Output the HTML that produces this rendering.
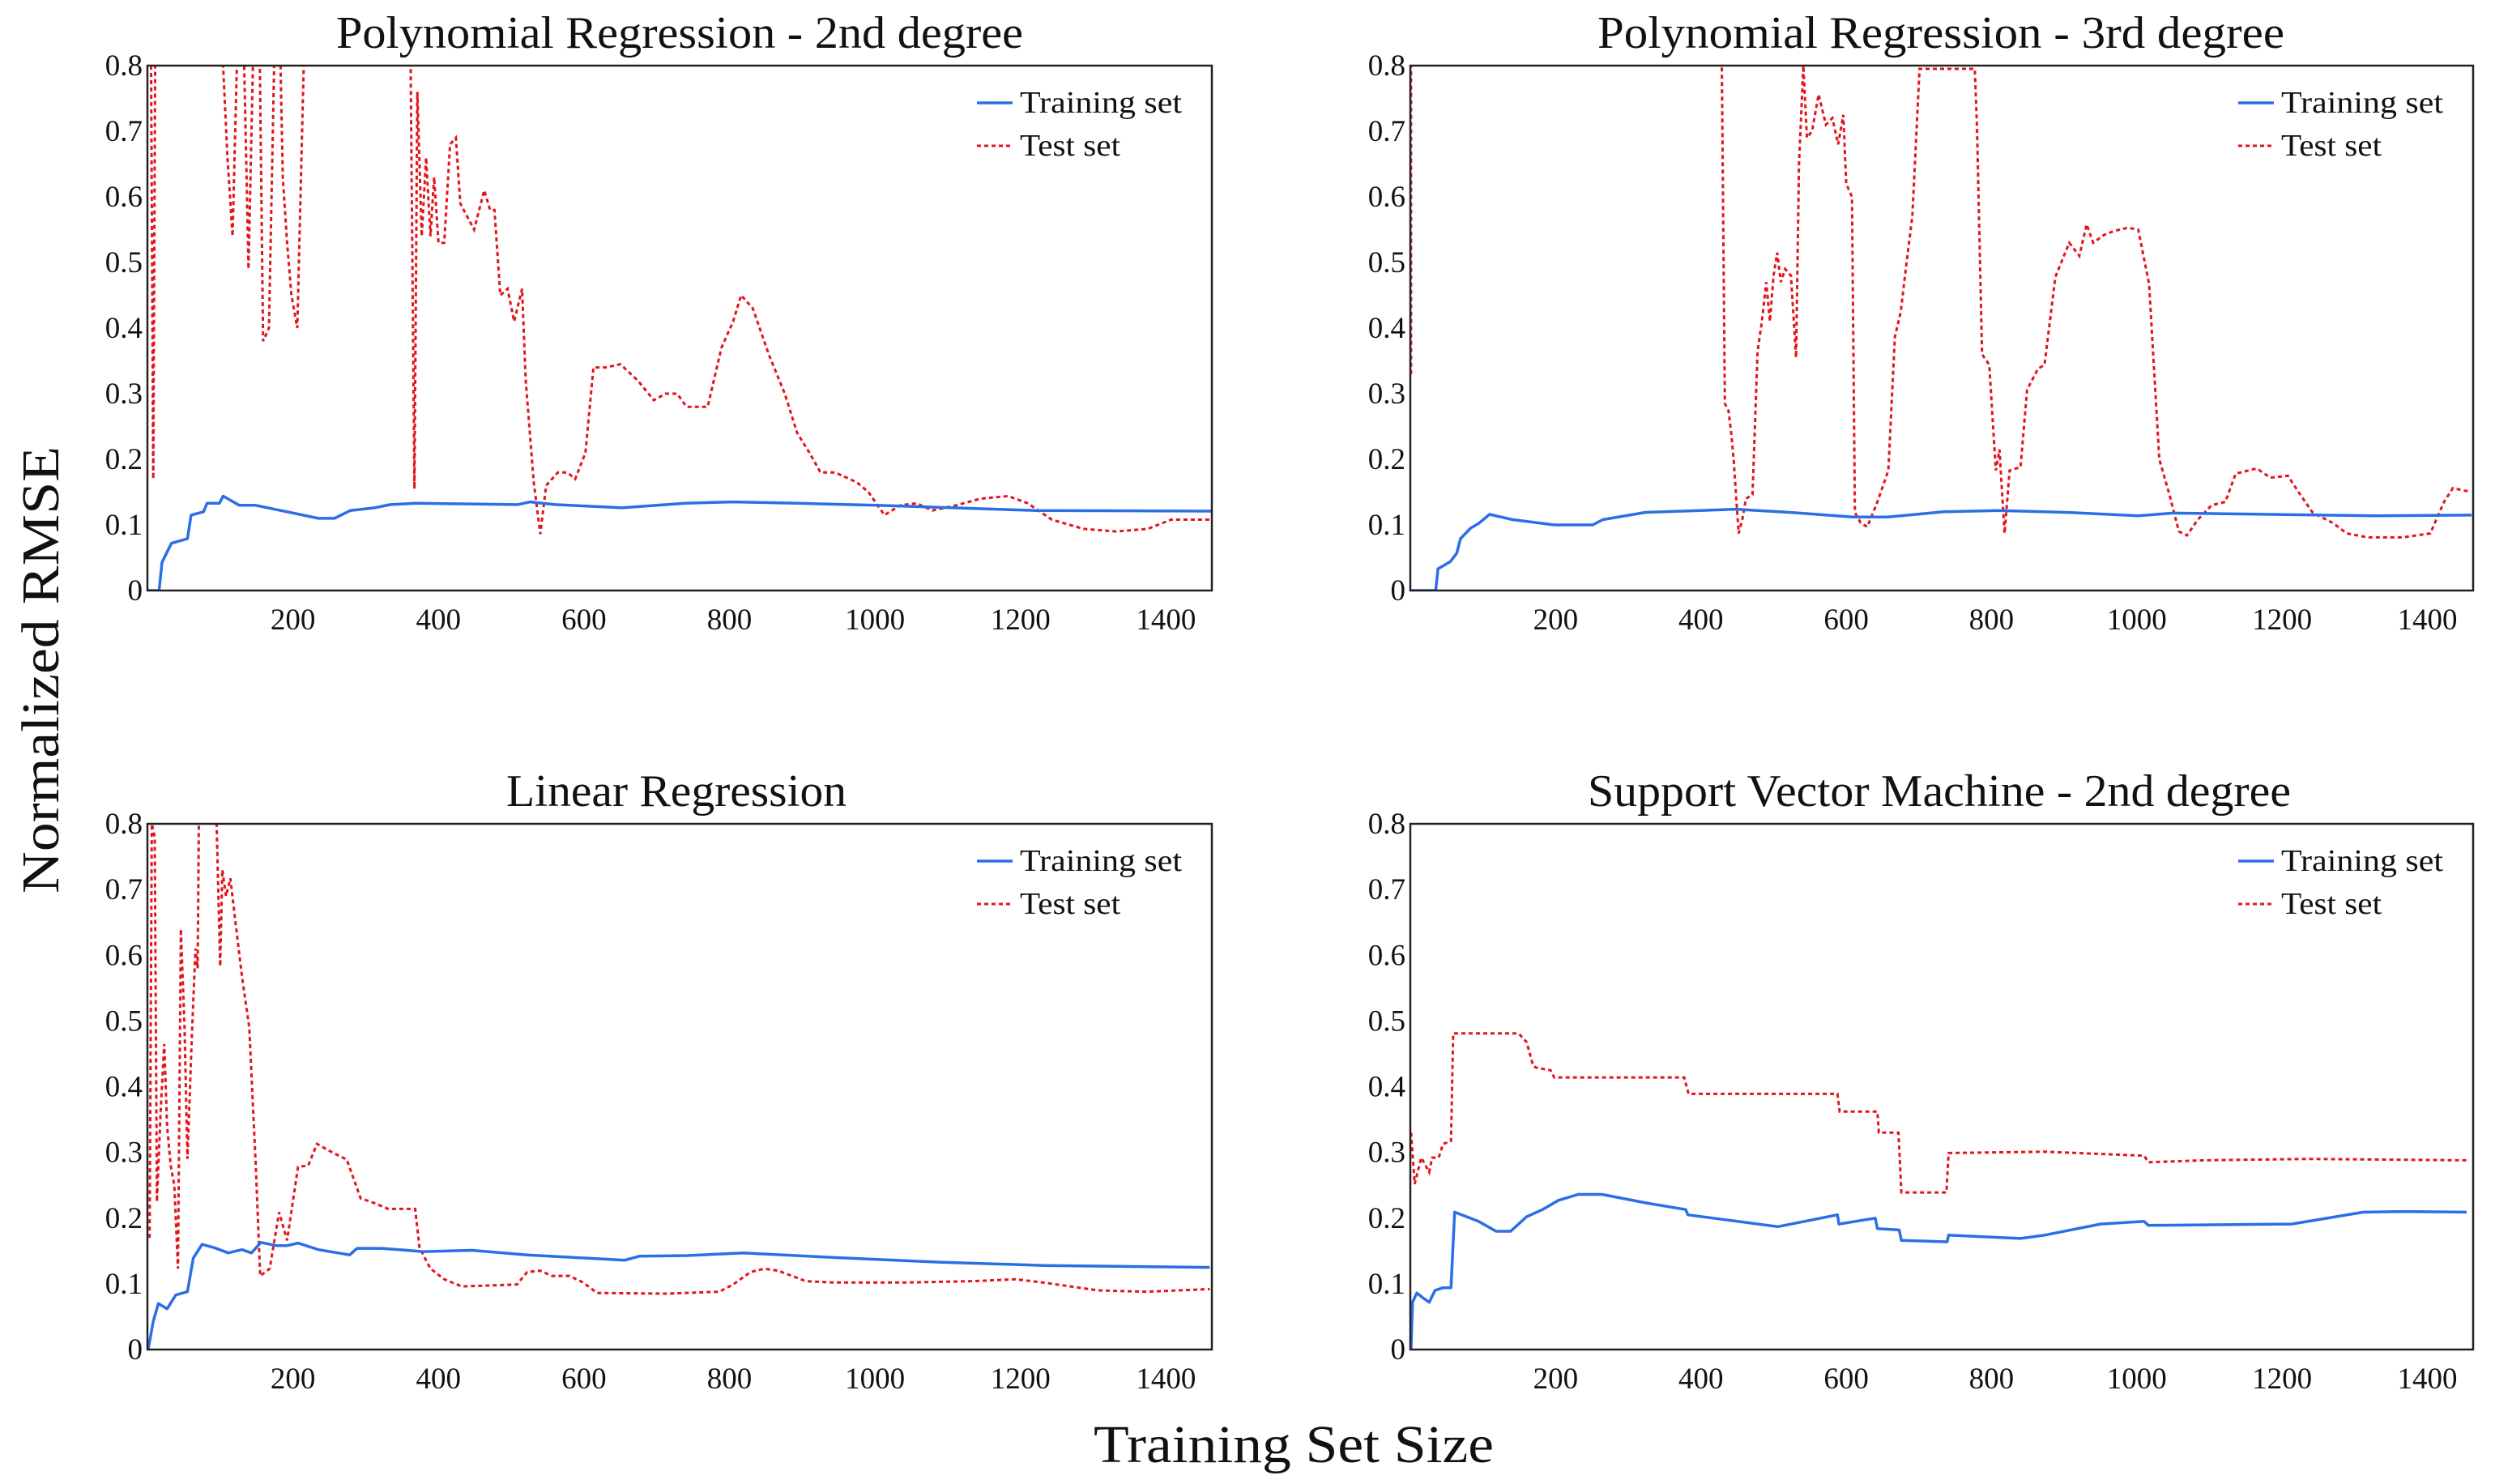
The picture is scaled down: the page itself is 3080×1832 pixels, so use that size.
<!DOCTYPE html>
<html><head><meta charset="utf-8">
<style>
html,body{margin:0;padding:0;background:#fff;}
svg{display:block;font-family:"Liberation Serif",serif;}
</style></head>
<body>
<svg id="fig" width="3080" height="1832" viewBox="0 0 3080 1832" xmlns="http://www.w3.org/2000/svg">
<text x="1597" y="1805" font-size="66" text-anchor="middle" textLength="494" lengthAdjust="spacingAndGlyphs" fill="#111">Training Set Size</text>
<text transform="translate(72,827) rotate(-90)" font-size="66" text-anchor="middle" textLength="552" lengthAdjust="spacingAndGlyphs" fill="#111">Normalized RMSE</text>
</svg>
<script>
// ---- data (x = training set size, y = normalized RMSE) ----
const xTicks = [200,400,600,800,1000,1200,1400];
const yTicks = [0,0.1,0.2,0.3,0.4,0.5,0.6,0.7,0.8];
const yTickLabels = ["0","0.1","0.2","0.3","0.4","0.5","0.6","0.7","0.8"];
const titles = ["Polynomial Regression - 2nd degree","Polynomial Regression - 3rd degree","Linear Regression","Support Vector Machine - 2nd degree"];
const legendLabels = ["Training set","Test set"];

const poly2TrainX = [0,16,20,33,55,60,77,82,99,104,126,148,192,235,257,279,312,334,367,509,526,560,652,739,805,893,1002,1221,1463];
const poly2TrainY = [0,0,0.043,0.072,0.079,0.115,0.12,0.133,0.133,0.144,0.13,0.13,0.12,0.11,0.11,0.122,0.126,0.131,0.133,0.131,0.135,0.131,0.126,0.133,0.135,0.133,0.13,0.122,0.121];
const poly2TestX = [3,5,8,11,100,104,110,117,124,132,139,146,154,159,167,175,182,186,192,198,206,217,361,367,371,377,383,389,394,400,408,416,424,430,449,463,471,477,485,495,504,515,520,531,540,548,564,577,588,602,613,630,650,674,696,712,728,741,770,789,805,816,832,854,876,893,910,925,945,975,991,1013,1035,1057,1079,1112,1145,1183,1210,1243,1287,1331,1375,1407,1440,1463];
const poly2TestY = [0.9,0.8,0.17,0.9,0.9,0.8,0.66,0.54,0.85,0.85,0.49,0.85,0.85,0.38,0.40,0.85,0.85,0.63,0.53,0.45,0.40,0.9,0.9,0.155,0.76,0.54,0.66,0.54,0.63,0.53,0.53,0.68,0.69,0.59,0.55,0.61,0.58,0.58,0.45,0.46,0.41,0.46,0.32,0.165,0.086,0.16,0.18,0.18,0.17,0.21,0.34,0.34,0.345,0.32,0.29,0.30,0.30,0.28,0.28,0.37,0.41,0.45,0.43,0.36,0.30,0.24,0.21,0.18,0.18,0.165,0.15,0.115,0.13,0.133,0.122,0.13,0.14,0.144,0.133,0.108,0.094,0.09,0.094,0.108,0.108,0.108];

const poly3TrainX = [0,35,38,55,64,69,83,95,109,141,198,251,265,323,399,447,524,610,657,734,810,906,1002,1050,1184,1327,1461];
const poly3TrainY = [0,0,0.033,0.044,0.057,0.079,0.095,0.103,0.116,0.108,0.1,0.1,0.108,0.119,0.122,0.124,0.119,0.112,0.112,0.12,0.122,0.119,0.114,0.118,0.116,0.114,0.115];
const poly3TestX = [1,1,2,428,433,438,442,445,452,457,462,471,478,484,490,495,500,505,510,516,524,531,535,541,546,553,562,572,581,589,596,600,608,612,620,629,643,658,667,675,682,691,701,710,730,777,780,787,797,806,811,818,825,840,849,864,873,888,907,921,931,940,955,969,988,1002,1017,1031,1045,1058,1069,1084,1103,1122,1136,1165,1184,1208,1222,1242,1270,1289,1318,1366,1404,1423,1435,1457];
const poly3TestY = [0.33,0.8,0.9,0.9,0.285,0.274,0.237,0.2,0.087,0.108,0.14,0.146,0.365,0.41,0.47,0.41,0.48,0.515,0.47,0.49,0.48,0.355,0.65,0.8,0.69,0.70,0.756,0.71,0.72,0.68,0.725,0.62,0.60,0.119,0.103,0.097,0.135,0.183,0.387,0.424,0.49,0.57,0.795,0.795,0.795,0.795,0.708,0.36,0.344,0.183,0.215,0.087,0.183,0.188,0.306,0.338,0.344,0.478,0.53,0.51,0.558,0.53,0.542,0.548,0.553,0.55,0.467,0.2,0.146,0.09,0.084,0.108,0.13,0.135,0.178,0.186,0.172,0.175,0.151,0.119,0.103,0.087,0.081,0.081,0.087,0.135,0.156,0.151];

const linTrainX = [1,8,15,27,39,55,63,75,92,111,130,143,156,178,192,207,235,278,288,322,379,446,522,656,676,743,819,944,1087,1231,1460];
const linTrainY = [0,0.043,0.07,0.062,0.083,0.088,0.139,0.16,0.155,0.147,0.152,0.147,0.163,0.158,0.158,0.162,0.152,0.144,0.154,0.154,0.149,0.151,0.144,0.136,0.142,0.143,0.147,0.14,0.133,0.128,0.125];
const linTestX = [3,6,10,13,18,23,27,32,37,42,46,51,55,61,66,69,71,94,100,103,108,114,121,130,140,149,155,168,181,192,207,221,233,254,274,293,307,331,368,374,389,408,432,508,522,540,556,580,599,618,714,786,805,829,848,867,905,944,1039,1135,1193,1231,1307,1374,1460];
const linTestY = [0.17,0.8,0.78,0.225,0.36,0.465,0.34,0.28,0.25,0.123,0.64,0.49,0.29,0.476,0.61,0.58,0.85,0.85,0.583,0.73,0.69,0.717,0.65,0.567,0.49,0.278,0.112,0.123,0.209,0.166,0.278,0.28,0.313,0.3,0.289,0.23,0.225,0.214,0.214,0.155,0.123,0.107,0.096,0.099,0.118,0.12,0.112,0.112,0.102,0.086,0.085,0.088,0.099,0.118,0.123,0.12,0.104,0.102,0.102,0.104,0.107,0.102,0.09,0.088,0.092];

const svmTrainX = [1,3,9,17,26,34,45,56,61,94,118,138,160,182,204,231,264,325,379,382,506,588,590,640,643,673,676,739,741,840,873,950,1010,1016,1213,1312,1366,1454];
const svmTrainY = [0,0.072,0.086,0.079,0.072,0.09,0.094,0.094,0.209,0.195,0.18,0.18,0.202,0.213,0.227,0.236,0.236,0.223,0.213,0.205,0.187,0.205,0.191,0.2,0.184,0.182,0.166,0.164,0.174,0.169,0.174,0.191,0.195,0.189,0.191,0.209,0.21,0.209];
const svmTestX = [1,6,15,26,30,39,45,56,59,149,160,169,173,193,198,377,383,588,591,643,645,672,676,738,741,873,1010,1016,1092,1235,1454];
const svmTestY = [0.33,0.252,0.292,0.27,0.292,0.292,0.313,0.317,0.481,0.481,0.468,0.432,0.429,0.425,0.414,0.414,0.389,0.389,0.362,0.362,0.33,0.33,0.239,0.239,0.299,0.301,0.295,0.285,0.288,0.29,0.288];

// ---- layout ----
const NS = "http://www.w3.org/2000/svg";
const svg = document.getElementById("fig");
const XMAX = 1463, YMAX = 0.8;
const panels = [
  {l:182, r:1496, t:81, b:729, trX:poly2TrainX, trY:poly2TrainY, teX:poly2TestX, teY:poly2TestY, key:"poly2", tcx:839, tw:848},
  {l:1741, r:3053, t:81, b:729, trX:poly3TrainX, trY:poly3TrainY, teX:poly3TestX, teY:poly3TestY, key:"poly3", tcx:2396, tw:848},
  {l:182, r:1496, t:1017, b:1666, trX:linTrainX, trY:linTrainY, teX:linTestX, teY:linTestY, key:"linear", tcx:835, tw:420},
  {l:1741, r:3053, t:1017, b:1666, trX:svmTrainX, trY:svmTrainY, teX:svmTestX, teY:svmTestY, key:"svm", tcx:2394, tw:868}
];
function mk(tag, attrs, parent){ const e=document.createElementNS(NS,tag); for(const k in attrs) e.setAttribute(k,attrs[k]); (parent||svg).appendChild(e); return e; }

panels.forEach((p,i)=>{
  const xs = v => p.l + v/XMAX*(p.r-p.l);
  const ys = v => p.b - v/YMAX*(p.b-p.t);
  const g = mk("g",{});
  
  
  const clipId = "clip"+i;
  const cp = mk("clipPath",{id:clipId},g);
  mk("rect",{x:p.l,y:p.t,width:p.r-p.l,height:p.b-p.t},cp);

  const title = mk("text",{x:p.tcx,y:p.t-22,"font-size":56,"text-anchor":"middle",fill:"#111",textLength:p.tw,lengthAdjust:"spacingAndGlyphs"},g);
  title.textContent = titles[i];
  
  

  yTicks.forEach((v,j)=>{
    const t = mk("text",{x:p.l-6,y:ys(v)+12,"font-size":37,"text-anchor":"end",fill:"#111"},g);
    t.textContent = yTickLabels[j];
    
    
  });
  xTicks.forEach(v=>{
    const t = mk("text",{x:xs(v),y:p.b+48,"font-size":37,"text-anchor":"middle",fill:"#111"},g);
    t.textContent = String(v);
    
    
  });

  const teLine = mk("polyline",{points:p.teX.map((x,k)=>xs(x).toFixed(1)+","+ys(p.teY[k]).toFixed(1)).join(" "),fill:"none",stroke:"#e3141c","stroke-width":3,"stroke-dasharray":"5 4","clip-path":"url(#"+clipId+")"},g);
  
  
  const trLine = mk("polyline",{points:p.trX.map((x,k)=>xs(x).toFixed(1)+","+ys(p.trY[k]).toFixed(1)).join(" "),fill:"none",stroke:"#2a6fe6","stroke-width":3.5,"stroke-linejoin":"round","clip-path":"url(#"+clipId+")"},g);
  
  

  const frame = mk("rect",{x:p.l,y:p.t,width:p.r-p.l,height:p.b-p.t,fill:"none",stroke:"#222","stroke-width":2.5},g);
  
  

  const lx = p.r-290, ly1 = p.t+46, ly2 = p.t+99;
  const lg = mk("g",{},g);
  
  
  mk("line",{x1:lx,y1:ly1,x2:lx+44,y2:ly1,stroke:"#2a6fe6","stroke-width":3.5},lg);
  mk("line",{x1:lx,y1:ly2,x2:lx+44,y2:ly2,stroke:"#e3141c","stroke-width":3,"stroke-dasharray":"5 4"},lg);
  const l1 = mk("text",{x:lx+53,y:ly1+12,"font-size":38,fill:"#111",textLength:200,lengthAdjust:"spacingAndGlyphs"},lg);
  l1.textContent = legendLabels[0];
  
  
  const l2 = mk("text",{x:lx+53,y:ly2+12,"font-size":38,fill:"#111",textLength:124,lengthAdjust:"spacingAndGlyphs"},lg);
  l2.textContent = legendLabels[1];
  
  
});
</script>
</body></html>
